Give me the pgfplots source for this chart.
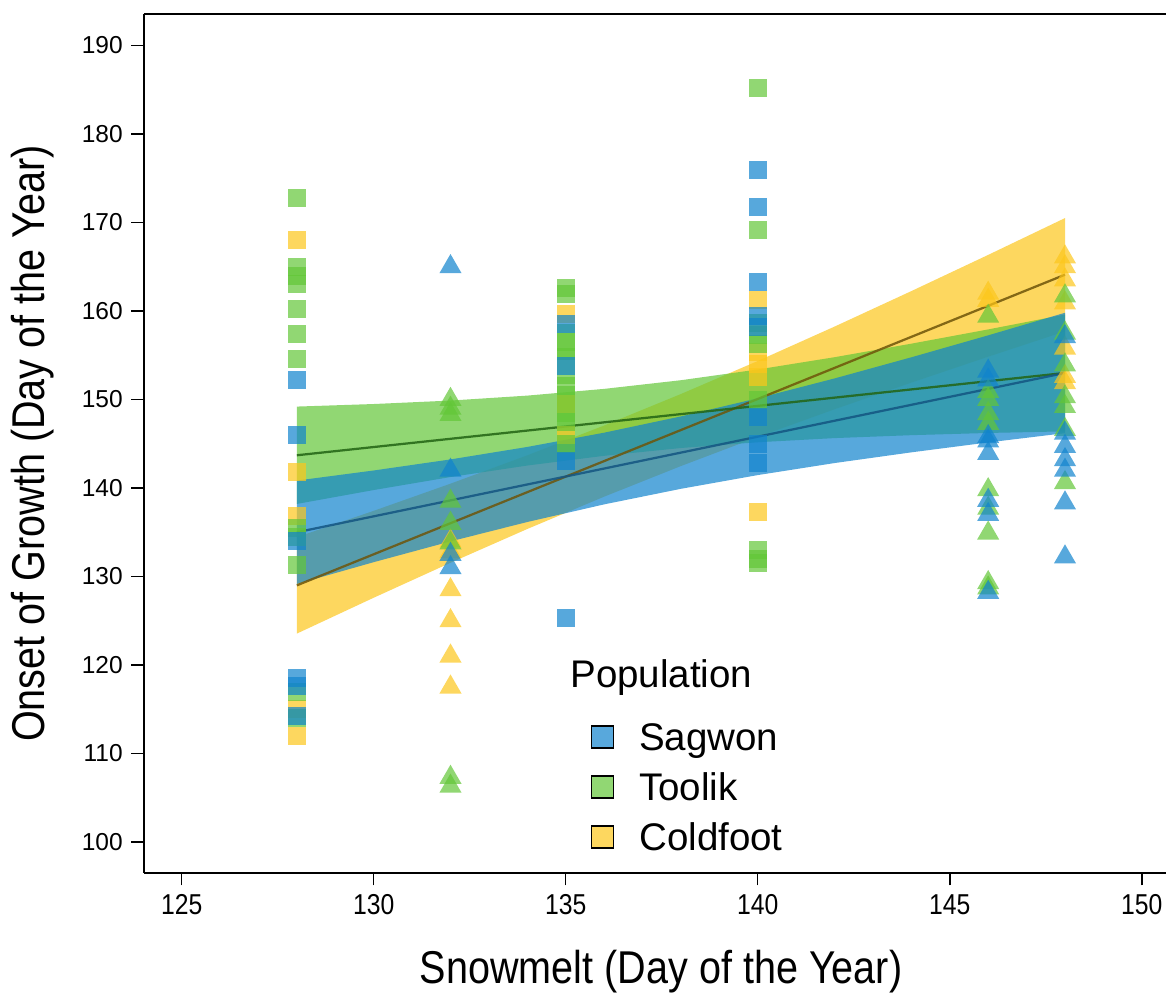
\documentclass[border=0pt]{standalone}
\usepackage{pgfplots}
\pgfplotsset{compat=1.18}
\usepackage{fontspec}
\setmainfont{Liberation Sans}
\newfontfamily\narrowfont{Liberation Sans}[FakeStretch=0.86]
\definecolor{sagc}{RGB}{16,131,205}
\definecolor{tooc}{RGB}{98,198,55}
\definecolor{colc}{RGB}{252,198,27}
\definecolor{sagl}{RGB}{20,85,130}
\definecolor{tool}{RGB}{35,100,20}
\definecolor{coll}{RGB}{110,85,10}
\pgfplotsset{
  sq/.style={only marks, mark=square*, mark size=3.6pt, color=#1, mark options={solid, fill=#1, fill opacity=0.7, draw opacity=0}, forget plot},
  tri/.style={only marks, mark=triangle*, mark size=5.1pt, color=#1, mark options={solid, fill=#1, fill opacity=0.7, draw opacity=0}, forget plot},
  rib/.style={fill=#1, fill opacity=0.7, draw=none, forget plot},
}
\begin{document}
\begin{tikzpicture}
\begin{axis}[
  scale only axis, width=408.8pt, height=343.6pt,
  xmin=124.02, xmax=150.63, ymin=96.5, ymax=193.56,
  axis x line*=bottom, axis y line*=left,
  axis line style={line width=0.6pt, black},
  xtick={125,130,...,150}, ytick={100,110,...,190},
  tick align=outside, major tick length=5pt,
  tick style={line width=0.6pt, black},
  /pgf/number format/assume math mode=true,
  xticklabel style={font=\narrowfont\fontsize{11.5}{13}\selectfont},
  yticklabel style={font=\fontsize{9.8}{11}\selectfont},
  xlabel={Snowmelt (Day of the Year)},
  ylabel={Onset of Growth (Day of the Year)},
  every axis x label/.style={at={(axis description cs:0.506,-0.115)}, anchor=center, font=\narrowfont\fontsize{18.4}{20}\selectfont},
  every axis y label/.style={at={(axis description cs:-0.1086,0.5)}, anchor=center, rotate=90, font=\narrowfont\fontsize{18.4}{20}\selectfont},
  legend style={at={(axis cs:135.66,113.7)}, anchor=north west, draw=none, fill=none, inner sep=0pt, outer sep=0pt,
    font=\fontsize{15.4}{18}\selectfont, row sep=7pt,
    nodes={inner sep=1pt, text height=11pt, text depth=0pt},
    /tikz/every odd column/.style={column sep=9pt}},
  legend cell align=left,
  legend image code/.code={\draw[#1, draw=black, line width=0.5pt] (0pt,-4.4pt) rectangle (8.8pt,4.4pt);},
  after end axis/.code={\draw[line width=0.6pt] (rel axis cs:0,1) -- (rel axis cs:1,1);},
]
\coordinate (sw) at (rel axis cs:0,0);
\coordinate (ne) at (rel axis cs:1,1);

% ---- Coldfoot points
\addplot[sq=colc] coordinates {(128,168) (128,141.8) (128,136.8) (128,115) (128,112)
  (135,159.7) (135,149.5) (135,146) (140,161.2) (140,155.4) (140,154) (140,152.5) (140,137.3)};
\addplot[tri=colc] coordinates {(132,134) (132,132.8) (132,128.5) (132,125) (132,121) (132,117.5)
  (146,162) (146,161.2) (148,166.1) (148,165) (148,163.5) (148,160.9) (148,155.8) (148,152.6) (148,151.9)};
% ---- Toolik points
\addplot[sq=tooc] coordinates {(128,172.8) (128,165) (128,164) (128,163) (128,160.2) (128,157.4) (128,154.6)
  (128,135.5) (128,134.5) (128,131.3) (128,117) (128,114)
  (135,162.6) (135,161.9) (135,157.5) (135,156.5) (135,155.5) (135,154.8) (135,152.8) (135,151.5) (135,150.5) (135,148.5) (135,147.5) (135,145)
  (140,185.2) (140,169.2) (140,158.6) (140,157.3) (140,156.3) (140,150) (140,133) (140,132) (140,131.5)};
\addplot[tri=tooc] coordinates {(132,150) (132,149) (132,148.3) (132,138.5) (132,136) (132,133.8) (132,107.3) (132,106.3)
  (146,159.4) (146,150.9) (146,150) (146,148.4) (146,147.3) (146,139.8) (146,137.7) (146,134.9) (146,129.3) (146,128.7)
  (148,161.7) (148,157.5) (148,153.9) (148,150.3) (148,149.2) (148,146.6) (148,140.6)};
% ---- Sagwon points
\addplot[sq=sagc] coordinates {(128,152.2) (128,146) (128,134) (128,118.5) (128,117.6) (128,114.2)
  (135,158.5) (135,153.8) (135,143) (135,125.3)
  (140,175.9) (140,171.8) (140,163.3) (140,159.4) (140,158.2) (140,148) (140,145) (140,142.8)};
\addplot[tri=sagc] coordinates {(132,165) (132,142) (132,132.5) (132,131)
  (146,153.2) (146,152.2) (146,145.8) (146,145.3) (146,143.9) (146,138.6) (146,137) (146,128.2)
  (148,157.1) (148,146.2) (148,144.7) (148,143.2) (148,142) (148,138.3) (148,132.2)};

% ---- confidence ribbons
\addplot[rib=colc] coordinates {(128,123.55) (130,127.60) (132,131.55) (134,135.37) (136,139.02) (138,142.48) (140,145.77) (142,148.90) (144,151.91) (146,154.84) (148,157.70)
  (148,170.50) (146,166.34) (144,162.25) (142,158.24) (140,154.35) (138,150.62) (136,147.06) (134,143.69) (132,140.49) (130,137.42) (128,134.45)} -- cycle;
\addplot[rib=tooc] coordinates {(128,138.20) (130,139.77) (132,141.24) (134,142.54) (136,143.64) (138,144.52) (140,145.17) (142,145.64) (144,145.97) (146,146.22) (148,146.40)
  (148,159.60) (146,157.92) (144,156.31) (142,154.78) (140,153.39) (138,152.18) (136,151.20) (134,150.44) (132,149.88) (130,149.49) (128,149.20)} -- cycle;
\addplot[rib=sagc] coordinates {(128,129.16) (130,131.62) (132,133.97) (134,136.16) (136,138.15) (138,139.91) (140,141.46) (142,142.82) (144,144.03) (146,145.15) (148,146.20)
  (148,159.80) (146,157.25) (144,154.77) (142,152.38) (140,150.14) (138,148.09) (136,146.25) (134,144.64) (132,143.23) (130,141.98) (128,140.84)} -- cycle;

% ---- regression lines
\addplot[coll, line width=0.9pt, opacity=0.85, forget plot] coordinates {(128,129.0) (148,164.1)};
\addplot[tool, line width=0.9pt, opacity=0.85, forget plot] coordinates {(128,143.7) (148,153.0)};
\addplot[sagl, line width=0.9pt, opacity=0.85, forget plot] coordinates {(128,135.0) (148,153.0)};

% ---- legend
\node[anchor=base west, inner sep=0pt, font=\fontsize{15.4}{18}\selectfont] at (axis cs:135.11,117.5) {Population};
\addlegendimage{fill=sagc!70!white}
\addlegendentry{Sagwon}
\addlegendimage{fill=tooc!70!white}
\addlegendentry{Toolik}
\addlegendimage{fill=colc!70!white}
\addlegendentry{Coldfoot}
\end{axis}
\pgfresetboundingbox
\path[use as bounding box] ([xshift=-57.6pt,yshift=-48.8pt]sw) rectangle ([yshift=5.6pt]ne);
\end{tikzpicture}
\end{document}
